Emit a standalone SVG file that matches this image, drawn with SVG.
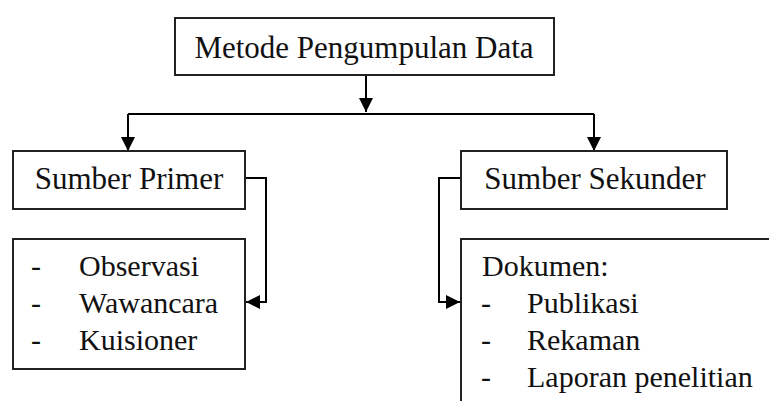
<svg xmlns="http://www.w3.org/2000/svg" width="769" height="401" viewBox="0 0 769 401">
<defs>
<marker id="ah" markerUnits="userSpaceOnUse" markerWidth="14" markerHeight="14" refX="14" refY="7" orient="auto">
<path d="M0,0 L14,7 L0,14 Z" fill="#000"/>
</marker>
</defs>
<rect width="769" height="401" fill="#fff"/>
<g id="connectors" fill="none" stroke="#000" stroke-width="2">
<path d="M366,75 V112" marker-end="url(#ah)"/>
<path d="M128,114 H594"/>
<path d="M128,114 V151" marker-end="url(#ah)"/>
<path d="M594,114 V151" marker-end="url(#ah)"/>
<path d="M245,178 H266 V302 H246" marker-end="url(#ah)"/>
<path d="M461,178 H439 V302 H460" marker-end="url(#ah)"/>
</g>
<g id="metode">
<rect x="175" y="18" width="379" height="57" fill="#fff" stroke="#222" stroke-width="2"/>
<text x="364" y="58" font-family="serif" font-size="31" text-anchor="middle" fill="#111">Metode Pengumpulan Data</text>
</g>
<g id="primer">
<rect x="13" y="151" width="232" height="58" fill="#fff" stroke="#222" stroke-width="2"/>
<text x="129" y="189" font-family="serif" font-size="31" text-anchor="middle" fill="#111">Sumber Primer</text>
</g>
<g id="sekunder">
<rect x="461" y="151" width="266" height="58" fill="#fff" stroke="#222" stroke-width="2"/>
<text x="595" y="189" font-family="serif" font-size="31" text-anchor="middle" fill="#111">Sumber Sekunder</text>
</g>
<g id="primer-list">
<rect x="13" y="239" width="232" height="130" fill="#fff" stroke="#222" stroke-width="2"/>
<text x="31" y="276" font-family="serif" font-size="30" fill="#111">-</text>
<text x="79" y="276" font-family="serif" font-size="30" fill="#111">Observasi</text>
<text x="31" y="313" font-family="serif" font-size="30" fill="#111">-</text>
<text x="79" y="313" font-family="serif" font-size="30" fill="#111">Wawancara</text>
<text x="31" y="350" font-family="serif" font-size="30" fill="#111">-</text>
<text x="79" y="350" font-family="serif" font-size="30" fill="#111">Kuisioner</text>
</g>
<g id="sekunder-list">
<rect x="461" y="239" width="330" height="200" fill="#fff" stroke="#222" stroke-width="2"/>
<text x="482" y="276" font-family="serif" font-size="30" fill="#111">Dokumen:</text>
<text x="481" y="313" font-family="serif" font-size="30" fill="#111">-</text>
<text x="527" y="313" font-family="serif" font-size="30" fill="#111">Publikasi</text>
<text x="481" y="350" font-family="serif" font-size="30" fill="#111">-</text>
<text x="527" y="350" font-family="serif" font-size="30" fill="#111">Rekaman</text>
<text x="481" y="387" font-family="serif" font-size="30" fill="#111">-</text>
<text x="527" y="387" font-family="serif" font-size="30" fill="#111">Laporan penelitian</text>
</g>
</svg>
